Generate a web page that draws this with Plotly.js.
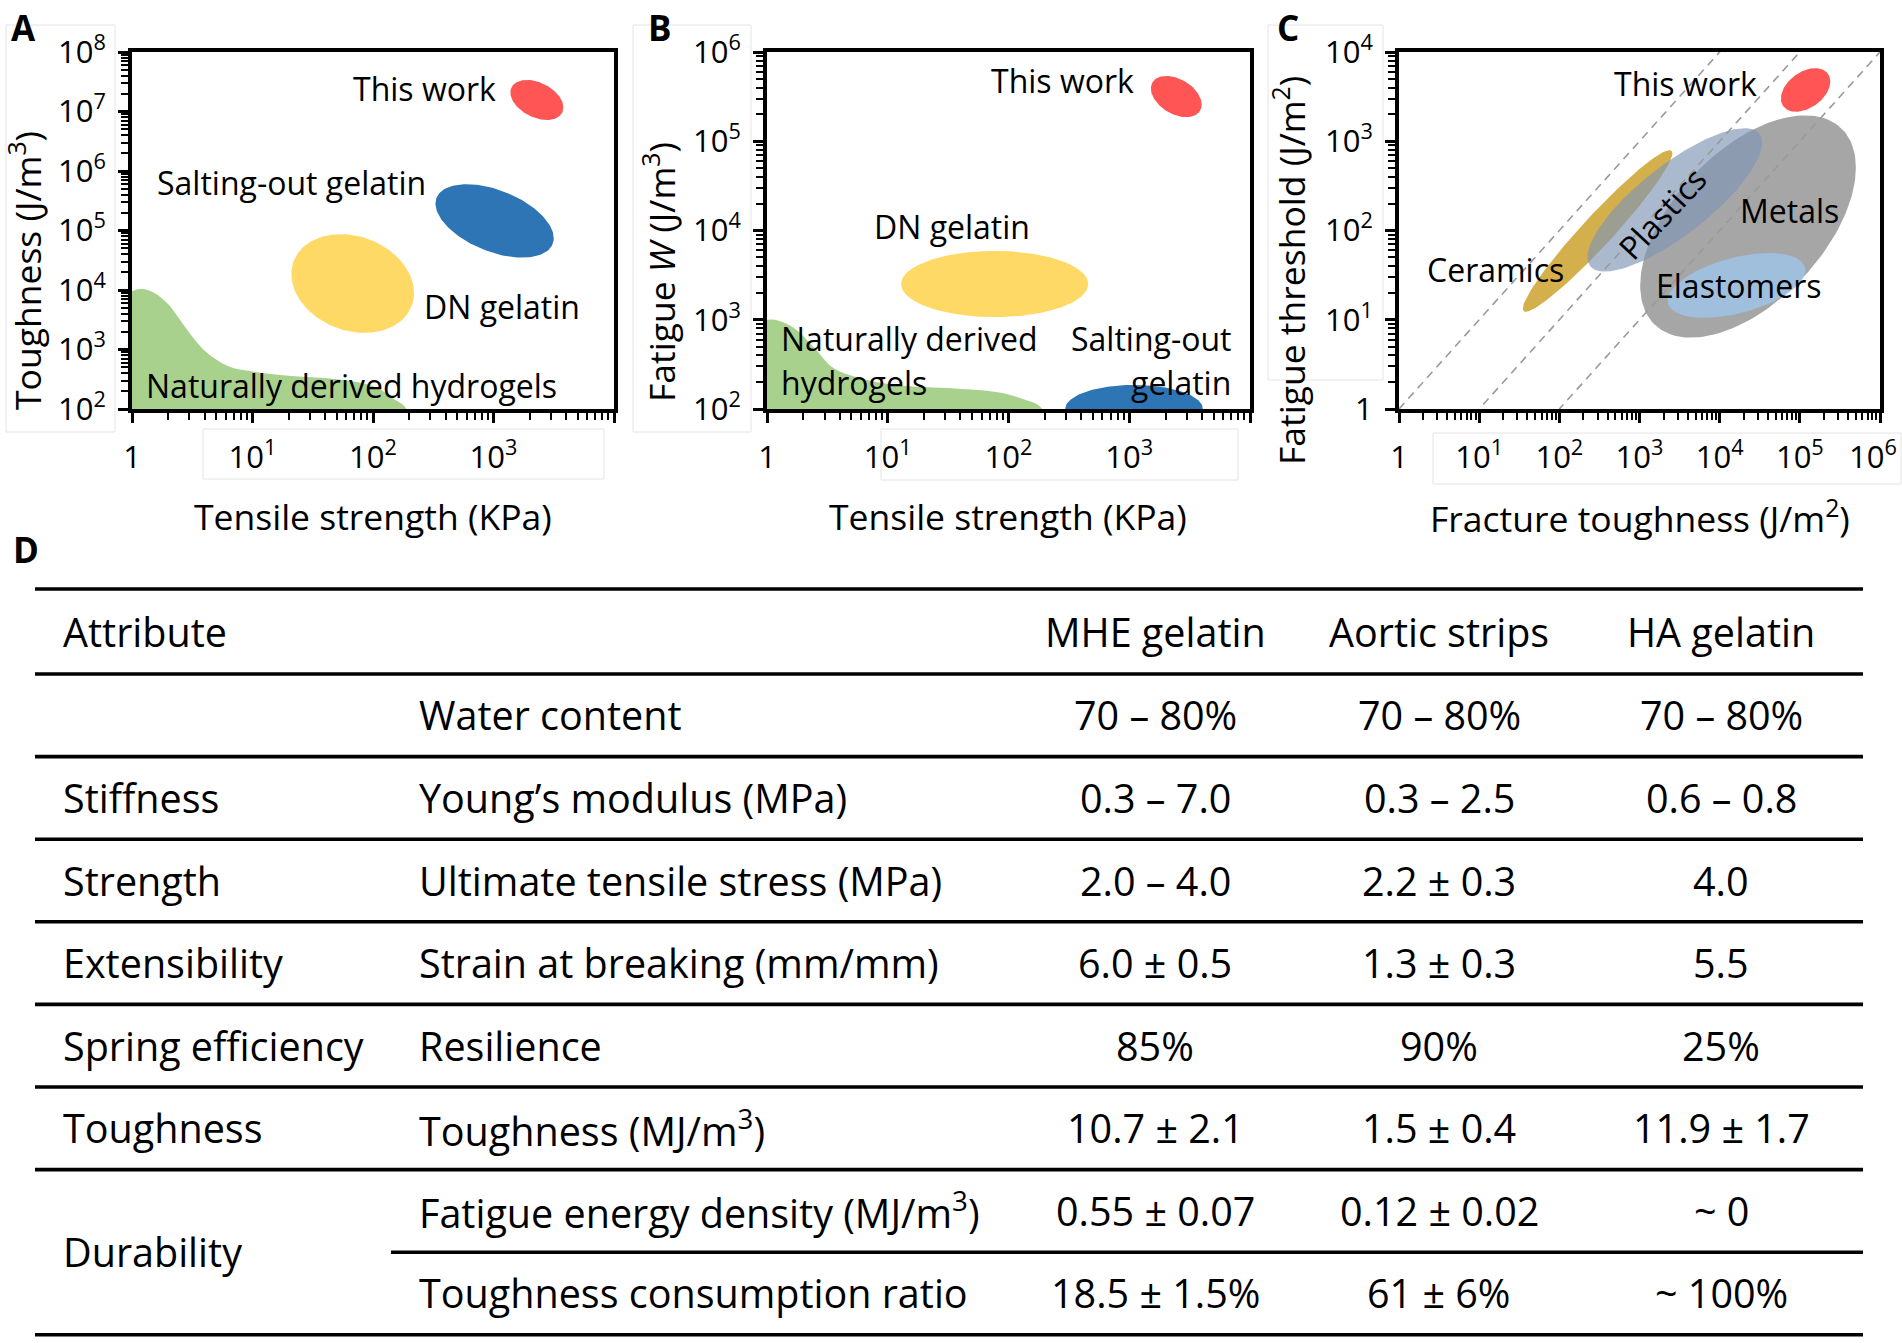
<!DOCTYPE html>
<html>
<head>
<meta charset="utf-8">
<script src="https://cdn.plot.ly/plotly-3.0.1.min.js"></script>
<style>
  html, body { margin: 0; padding: 0; background: #ffffff; }
  #chart { width: 1902px; height: 1343px; }
</style>
</head>
<body>
<div id="chart"></div>
<script>
// ================= DATA =================
// Panel A: toughness (J/m3) vs tensile strength (KPa)
const aRegionNames   = ['This work', 'Salting-out gelatin', 'DN gelatin'];
const aStrengthLow   = [1380, 330, 21];
const aStrengthHigh  = [3800, 3160, 219];
const aToughLow      = [7.2e6, 3.5e4, 1.9e3];
const aToughHigh     = [3.4e7, 6.0e5, 8.7e4];
const aTilt          = [112, 118, 101];
const aNaturalStrength = [1, 1.17, 1.51, 2.0, 2.5, 3.16, 4.17, 6.3, 10, 20, 40, 79, 112, 141, 190];
const aNaturalTough    = [9550, 10500, 9120, 5750, 3160, 1660, 890, 525, 427, 363, 331, 275, 219, 158, 100];

// Panel B: fatigue W (J/m3) vs tensile strength (KPa)
const bRegionNames   = ['This work', 'DN gelatin', 'Salting-out gelatin'];
const bStrengthLow   = [1510, 12.9, 295];
const bStrengthHigh  = [3980, 457, 4070];
const bFatigueLow    = [1.86e5, 1070, 54];
const bFatigueHigh   = [5.4e5, 5900, 186];
const bTilt          = [113, 90, 90];
const bNaturalStrength = [1, 1.17, 1.66, 2.45, 3.55, 5.75, 11.5, 36.3, 79.4, 126, 190];
const bNaturalFatigue  = [1000, 1000, 813, 490, 288, 224, 186, 170, 155, 132, 100];

// Panel C: fatigue threshold (J/m2) vs fracture toughness (J/m2)
const cRegionNames   = ['Metals', 'Ceramics', 'Plastics', 'Elastomers', 'This work'];
const cToughLow      = [1020, 35, 224, 2240, 5.8e4];
const cToughHigh     = [5.0e5, 2570, 33900, 1.175e5, 2.4e5];
const cThreshLow     = [6.3, 12.3, 34.7, 10.5, 2140];
const cThreshHigh    = [1950, 794, 1400, 56, 6600];
const cTilt          = [58, 16, 37, 62, 67];
const cGuideRatios   = [1, 0.1, 0.01];   // threshold / toughness

// Tick values and labels
const strengthTickVals = [1, 10, 100, 1000, 10000];
const strengthTickText = ['1', '10<sup>1</sup>', '10<sup>2</sup>', '10<sup>3</sup>', ''];
const aToughTickVals = [1e2, 1e3, 1e4, 1e5, 1e6, 1e7, 1e8];
const aToughTickText = ['10<sup>2</sup>', '10<sup>3</sup>', '10<sup>4</sup>', '10<sup>5</sup>', '10<sup>6</sup>', '10<sup>7</sup>', '10<sup>8</sup>'];
const bFatigueTickVals = [1e2, 1e3, 1e4, 1e5, 1e6];
const bFatigueTickText = ['10<sup>2</sup>', '10<sup>3</sup>', '10<sup>4</sup>', '10<sup>5</sup>', '10<sup>6</sup>'];
const cToughTickVals = [1, 1e1, 1e2, 1e3, 1e4, 1e5, 1e6];
const cToughTickText = ['1', '10<sup>1</sup>', '10<sup>2</sup>', '10<sup>3</sup>', '10<sup>4</sup>', '10<sup>5</sup>', '10<sup>6</sup>'];
const cThreshTickVals = [1, 1e1, 1e2, 1e3, 1e4];
const cThreshTickText = ['1', '10<sup>1</sup>', '10<sup>2</sup>', '10<sup>3</sup>', '10<sup>4</sup>'];

// Panel D: table
const tableHeader   = ['Attribute', '', 'MHE gelatin', 'Aortic strips', 'HA gelatin'];
const attributes    = ['', 'Stiffness', 'Strength', 'Extensibility', 'Spring efficiency', 'Toughness', 'Durability', ''];
const attributeSpan = [1, 1, 1, 1, 1, 1, 2, 0];
const properties    = ['Water content', 'Young’s modulus (MPa)', 'Ultimate tensile stress (MPa)', 'Strain at breaking (mm/mm)',
                       'Resilience', 'Toughness (MJ/m<sup>3</sup>)', 'Fatigue energy density (MJ/m<sup>3</sup>)', 'Toughness consumption ratio'];
const mheGelatin    = ['70 – 80%', '0.3 – 7.0', '2.0 – 4.0', '6.0 ± 0.5', '85%', '10.7 ± 2.1', '0.55 ± 0.07', '18.5 ± 1.5%'];
const aorticStrips  = ['70 – 80%', '0.3 – 2.5', '2.2 ± 0.3', '1.3 ± 0.3', '90%', '1.5 ± 0.4', '0.12 ± 0.02', '61 ± 6%'];
const haGelatin     = ['70 – 80%', '0.6 – 0.8', '4.0', '5.5', '25%', '11.9 ± 1.7', '~ 0', '~ 100%'];

// ================= STYLE / LAYOUT =================
const W = 1902, H = 1343;
const px = v => v / W;
const py = v => 1 - v / H;
const FONT = '"Open Sans", "Noto Sans", sans-serif';
const RED = '#FF5555', BLUE = '#2E75B6', YELLOW = '#FFD966', GREEN = '#A9D18E';
const aColors = [RED, BLUE, YELLOW];
const bColors = [RED, YELLOW, BLUE];
const cColors = ['#A6A6A6', '#D4B04C', 'rgba(127,149,180,0.66)', 'rgba(157,195,230,0.85)', RED];

function ellipse(xlo, xhi, ylo, yhi, tiltDeg) {
  const lx0 = Math.log10(xlo), lx1 = Math.log10(xhi);
  const ly0 = Math.log10(ylo), ly1 = Math.log10(yhi);
  const cx = (lx0 + lx1) / 2, rx = (lx1 - lx0) / 2;
  const cy = (ly0 + ly1) / 2, ry = (ly1 - ly0) / 2;
  const d = tiltDeg * Math.PI / 180;
  const xs = [], ys = [];
  for (let i = 0; i <= 160; i++) {
    const t = 2 * Math.PI * i / 160;
    xs.push(Math.pow(10, cx + rx * Math.cos(t)));
    ys.push(Math.pow(10, cy + ry * Math.cos(t - d)));
  }
  return { x: xs, y: ys };
}

function fillTrace(x, y, color, xa, ya, name, shape) {
  return { type: 'scatter', mode: 'lines', x: x, y: y, fill: 'toself', fillcolor: color,
           line: { width: 0, color: color, shape: shape || 'linear', smoothing: 1 },
           xaxis: xa, yaxis: ya, name: name, hoverinfo: 'skip', showlegend: false };
}

function areaUnder(xs, ys, xMinOut, yMinOut) {
  // closes a boundary curve down to outside the axes range (clipped by the plot area)
  const x = xs.slice(), y = ys.slice();
  x.push(xs[xs.length - 1], xMinOut, xMinOut);
  y.push(yMinOut, yMinOut, ys[0]);
  return { x, y };
}

const traces = [];
// Panel A
const aNat = areaUnder(aNaturalStrength, aNaturalTough, 0.5, 40);
traces.push(fillTrace(aNat.x, aNat.y, GREEN, 'x', 'y', 'Naturally derived hydrogels', 'spline'));
aRegionNames.forEach((n, i) => {
  const e = ellipse(aStrengthLow[i], aStrengthHigh[i], aToughLow[i], aToughHigh[i], aTilt[i]);
  traces.push(fillTrace(e.x, e.y, aColors[i], 'x', 'y', n));
});
// Panel B
const bNat = areaUnder(bNaturalStrength, bNaturalFatigue, 0.5, 40);
traces.push(fillTrace(bNat.x, bNat.y, GREEN, 'x2', 'y2', 'Naturally derived hydrogels', 'spline'));
bRegionNames.forEach((n, i) => {
  const e = ellipse(bStrengthLow[i], bStrengthHigh[i], bFatigueLow[i], bFatigueHigh[i], bTilt[i]);
  traces.push(fillTrace(e.x, e.y, bColors[i], 'x2', 'y2', n));
});
// Panel C
cRegionNames.forEach((n, i) => {
  const e = ellipse(cToughLow[i], cToughHigh[i], cThreshLow[i], cThreshHigh[i], cTilt[i]);
  traces.push(fillTrace(e.x, e.y, cColors[i], 'x3', 'y3', n));
});
cGuideRatios.forEach(r => {
  traces.push({ type: 'scatter', mode: 'lines', x: [1, 1e6], y: [r * 1, r * 1e6],
    line: { color: '#9a9a9a', width: 1.6, dash: '8px,6px' }, xaxis: 'x3', yaxis: 'y3',
    hoverinfo: 'skip', showlegend: false });
});

function minorVals(tickVals) {
  const m = [];
  for (let i = 0; i < tickVals.length - 1; i++) for (let k = 2; k <= 9; k++) m.push(k * tickVals[i]);
  return m;
}

function logAxis(range, domain, anchor, vals, text, standoff) {
  return {
    type: 'log', range: range, domain: domain, anchor: anchor,
    showline: true, linecolor: 'black', linewidth: 4, mirror: true,
    ticks: 'outside', ticklen: 10, tickwidth: 3, tickcolor: 'black',
    tickmode: 'array', tickvals: vals, ticktext: text,
    tickfont: { family: FONT, size: 31, color: 'black' },
    ticklabelstandoff: standoff, ticklabeloverflow: 'allow',
    minor: { tickmode: 'array', tickvals: minorVals(vals), ticks: 'outside', ticklen: 7, tickwidth: 2, tickcolor: 'black', showgrid: false },
    showgrid: false, zeroline: false, fixedrange: true
  };
}

// last label of panel C x axis sits at the figure edge: drawn separately, nudged inward
const cToughAxisText = cToughTickText.slice(0, -1).concat(['']);

const yDom = [py(409), py(52)];
const layout = {
  width: W, height: H,
  margin: { l: 0, r: 0, t: 0, b: 0, pad: 0 },
  paper_bgcolor: '#ffffff', plot_bgcolor: '#ffffff',
  showlegend: false,
  font: { family: FONT, color: 'black' },
  xaxis:  logAxis([0, 4], [px(132), px(614)], 'y',  strengthTickVals, strengthTickText, 8),
  yaxis:  logAxis([2, 8], yDom, 'x',  aToughTickVals, aToughTickText, 6),
  xaxis2: logAxis([0, 4], [px(767), px(1250)], 'y2', strengthTickVals, strengthTickText, 8),
  yaxis2: logAxis([2, 6], yDom, 'x2', bFatigueTickVals, bFatigueTickText, 6),
  xaxis3: logAxis([0, 6], [px(1399), px(1880)], 'y3', cToughTickVals, cToughAxisText, 8),
  yaxis3: logAxis([0, 4], yDom, 'x3', cThreshTickVals, cThreshTickText, 6),
  shapes: [],
  annotations: []
};

const ann = layout.annotations;
const LBL = { family: FONT, size: 32, color: 'black' };
const TTL = { family: FONT, size: 35.5, color: 'black' };
function dataLabel(text, xa, ya, lx, ly, xanchor, angle) {
  ann.push({ text: text, xref: xa, yref: ya, x: lx, y: ly, showarrow: false,
             xanchor: xanchor || 'center', yanchor: 'middle', font: LBL, textangle: angle || 0 });
}
// Panel A labels (log10 coordinates)
dataLabel(aRegionNames[0], 'x', 'y', 2.43, 7.38);
dataLabel(aRegionNames[1], 'x', 'y', 1.32, 5.80);
dataLabel(aRegionNames[2], 'x', 'y', 3.07, 3.72);
dataLabel('Naturally derived hydrogels', 'x', 'y', 1.82, 2.40);
// Panel B labels
dataLabel(bRegionNames[0], 'x2', 'y2', 2.45, 5.68);
dataLabel(bRegionNames[1], 'x2', 'y2', 1.53, 4.04);
dataLabel('Naturally derived', 'x2', 'y2', 0.10, 2.79, 'left');
dataLabel('hydrogels', 'x2', 'y2', 0.10, 2.30, 'left');
dataLabel('Salting-out', 'x2', 'y2', 3.86, 2.79, 'right');
dataLabel('gelatin', 'x2', 'y2', 3.86, 2.30, 'right');
// Panel C labels
dataLabel(cRegionNames[4], 'x3', 'y3', 3.57, 3.65);
dataLabel(cRegionNames[2], 'x3', 'y3', 3.275, 2.19, 'center', -47);
dataLabel(cRegionNames[0], 'x3', 'y3', 4.875, 2.22);
dataLabel(cRegionNames[1], 'x3', 'y3', 1.20, 1.565);
dataLabel(cRegionNames[3], 'x3', 'y3', 4.23, 1.38);

function paperText(text, x, y, font, xanchor, angle) {
  ann.push({ text: text, xref: 'paper', yref: 'paper', x: px(x), y: py(y), showarrow: false,
             xanchor: xanchor || 'center', yanchor: 'middle', font: font, textangle: angle || 0 });
}
// last x tick label of panel C (at the right edge of the figure)
ann.push({ text: cToughTickText[cToughTickText.length - 1], xref: 'paper', yref: 'paper',
           x: px(1899), y: py(455), xanchor: 'right', yanchor: 'middle', showarrow: false,
           font: { family: FONT, size: 31, color: 'black' } });
// Axis titles
paperText('Tensile strength (KPa)', 373, 516, TTL);
paperText('Tensile strength (KPa)', 1008, 516, TTL);
paperText('Fracture toughness (J/m<sup>2</sup>)', 1640, 516, TTL);
paperText('Toughness (J/m<sup>3</sup>)', 25, 271, TTL, 'center', -90);
paperText('Fatigue <i>W</i> (J/m<sup>3</sup>)', 659, 272, TTL, 'center', -90);
paperText('Fatigue threshold (J/m<sup>2</sup>)', 1289, 271, TTL, 'center', -90);
// Panel letters
const PL = { family: FONT, size: 35, color: 'black', weight: 700 };
paperText('<b>A</b>', 23, 27, PL);
paperText('<b>B</b>', 660, 27, PL);
paperText('<b>C</b>', 1288, 27, PL);
paperText('<b>D</b>', 26, 549, PL);

// faint label boxes
const boxes = [[6, 25, 115, 432], [203, 429, 604, 479], [633, 25, 751, 432], [881, 429, 1238, 480], [1268, 25, 1383, 380], [1433, 433, 1901, 484]];
boxes.forEach(b => layout.shapes.push({ type: 'rect', xref: 'paper', yref: 'paper', x0: px(b[0]), y0: py(b[1]), x1: px(b[2]), y1: py(b[3]),
  line: { color: '#e4e4e4', width: 1 }, fillcolor: 'rgba(0,0,0,0)', layer: 'below' }));

// ================= TABLE =================
const TF = { family: FONT, size: 39.5, color: 'black' };
const tLeft = 35, tRight = 1863;
const colX = [61, 417, 1155, 1439, 1721];
const headTop = 589, headBottom = 674, rowH = 82.6;
function hline(y, x0) {
  layout.shapes.push({ type: 'line', xref: 'paper', yref: 'paper', x0: px(x0), x1: px(tRight), y0: py(y), y1: py(y),
    line: { color: 'black', width: 3.6 } });
}
hline(headTop, tLeft);
hline(headBottom, tLeft);
const headY = (headTop + headBottom) / 2;
tableHeader.forEach((h, c) => { if (h) paperText(h, colX[c], headY, TF, c < 2 ? 'left' : 'center'); });
const valueCols = [mheGelatin, aorticStrips, haGelatin];
properties.forEach((p, r) => {
  const top = headBottom + r * rowH, mid = top + rowH / 2;
  if (attributeSpan[r] > 0 && attributes[r]) {
    paperText(attributes[r], colX[0], top + attributeSpan[r] * rowH / 2, TF, 'left');
  }
  paperText(p, colX[1], mid, TF, 'left');
  valueCols.forEach((vals, c) => paperText(vals[r], colX[c + 2], mid, TF, 'center'));
  const nextMerged = (r + 1 < attributeSpan.length) && attributeSpan[r + 1] === 0;
  hline(top + rowH, nextMerged ? 391 : tLeft);
});

Plotly.newPlot('chart', traces, layout, { staticPlot: true, displayModeBar: false });
</script>
</body>
</html>
